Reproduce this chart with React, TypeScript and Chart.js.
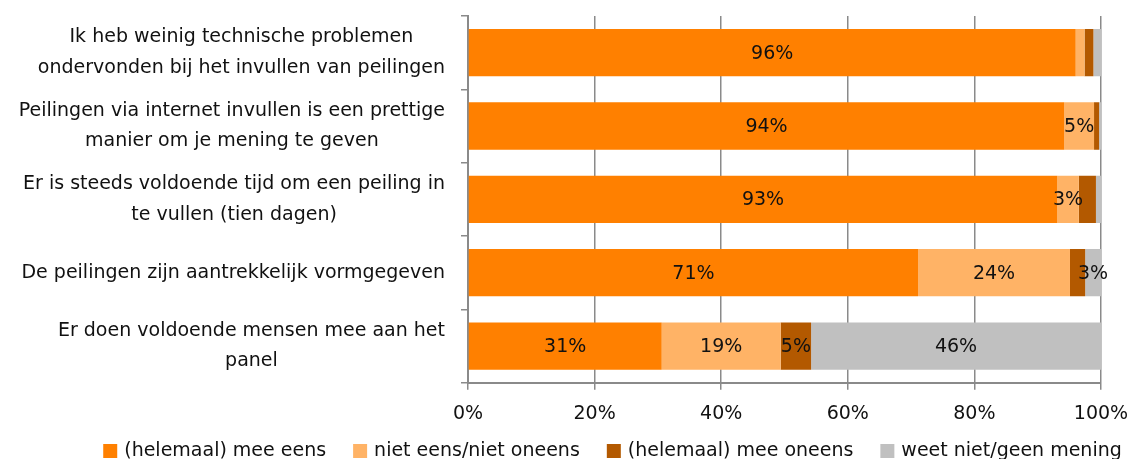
import React, { useEffect, useRef } from "react";
import { Chart, registerables } from "chart.js";

Chart.register(...registerables);

// ---- data ----
const categories: string[][] = [
  ["Ik heb weinig technische problemen", "ondervonden bij het invullen van peilingen"],
  ["Peilingen via internet invullen is een prettige", "manier om je mening te geven"],
  ["Er is steeds voldoende tijd om een peiling in", "te vullen (tien dagen)"],
  ["De peilingen zijn aantrekkelijk vormgegeven"],
  ["Er doen voldoende mensen mee aan het", "panel"],
];
const seriesNames = [
  "(helemaal) mee eens",
  "niet eens/niet oneens",
  "(helemaal) mee oneens",
  "weet niet/geen mening",
];
const eens = [96.0, 94.2, 93.1, 71.1, 30.6];
const neutraal = [1.4, 4.7, 3.4, 24.0, 18.8];
const oneens = [1.4, 0.8, 2.7, 2.4, 4.8];
const weetNiet = [1.2, 0.3, 0.8, 2.5, 45.8];
// which values carry a visible data label
const eensShown = [true, true, true, true, true];
const neutraalShown = [false, true, true, true, true];
const oneensShown = [false, false, false, false, true];
const weetNietShown = [false, false, false, true, true];
const xTickValues = [0, 20, 40, 60, 80, 100];

// ---- styles ----
const FONT = "'DejaVu Sans', sans-serif";
const FS = 19;
const COLORS = ["#FF8000", "#FFB366", "#B35900", "#C0C0C0"];
const AXIS = "#8a8a8a";
const TEXT = "#111";
const LEGEND_CENTER_X = 612.5;
const LEGEND_CENTER_Y = 451;

export default function App() {
  const ref = useRef<HTMLCanvasElement>(null);

  useEffect(() => {
    document.body.style.margin = "0";
    const canvas = ref.current!;
    const values = [eens, neutraal, oneens, weetNiet];
    const shown = [eensShown, neutraalShown, oneensShown, weetNietShown];

    const segmentLabels = {
      id: "segmentLabels",
      afterDatasetsDraw(chart: any) {
        const ctx = chart.ctx;
        ctx.save();
        ctx.font = `${FS}px ${FONT}`;
        ctx.fillStyle = TEXT;
        ctx.textAlign = "center";
        ctx.textBaseline = "middle";
        chart.data.datasets.forEach((ds: any, di: number) => {
          const meta = chart.getDatasetMeta(di);
          meta.data.forEach((bar: any, i: number) => {
            if (!shown[di][i]) return;
            const cx = (bar.x + bar.base) / 2;
            ctx.fillText(Math.round(ds.data[i]) + "%", cx, bar.y + 1);
          });
        });
        ctx.restore();
      },
    };

    const categoryLabels = {
      id: "categoryLabels",
      afterDraw(chart: any) {
        const ctx = chart.ctx;
        const scale = chart.scales.y;
        const lineH = 30.6;
        ctx.save();
        ctx.font = `${FS}px ${FONT}`;
        ctx.fillStyle = TEXT;
        ctx.textAlign = "center";
        ctx.textBaseline = "middle";
        const right = chart.chartArea.left - 23;
        categories.forEach((lines, i) => {
          const w = Math.max(...lines.map((l) => ctx.measureText(l).width));
          const cx = right - w / 2;
          const cy = scale.getPixelForTick(i);
          const y0 = cy - ((lines.length - 1) * lineH) / 2;
          lines.forEach((l, k) => ctx.fillText(l, cx, y0 + k * lineH));
        });
        ctx.restore();
      },
    };

    const bottomLegend = {
      id: "bottomLegend",
      afterDraw(chart: any) {
        const ctx = chart.ctx;
        const box = 14;
        const gap = 7;
        const spacing = 27;
        ctx.save();
        ctx.font = `${FS}px ${FONT}`;
        ctx.textBaseline = "middle";
        ctx.textAlign = "left";
        const widths = chart.data.datasets.map((ds: any) => box + gap + ctx.measureText(ds.label).width);
        const total = widths.reduce((a: number, b: number) => a + b, 0) + spacing * (widths.length - 1);
        let x = LEGEND_CENTER_X - total / 2;
        chart.data.datasets.forEach((ds: any, k: number) => {
          ctx.fillStyle = ds.backgroundColor;
          ctx.fillRect(x, LEGEND_CENTER_Y - box / 2, box, box);
          ctx.fillStyle = TEXT;
          ctx.fillText(ds.label, x + box + gap, LEGEND_CENTER_Y);
          x += widths[k] + spacing;
        });
        ctx.restore();
      },
    };

    const chart = new Chart(canvas, {
      type: "bar",
      data: {
        labels: categories.map((c) => c.join(" ")),
        datasets: seriesNames.map((name, k) => ({
          label: name,
          data: values[k],
          backgroundColor: COLORS[k],
          borderWidth: 0,
          barPercentage: 0.645,
          categoryPercentage: 1,
        })),
      },
      options: {
        indexAxis: "y",
        animation: false,
        responsive: false,
        layout: { padding: { left: 0, right: 33, top: 16, bottom: 36.3 } },
        scales: {
          y: {
            type: "category",
            stacked: true,
            offset: true,
            grid: {
              offset: true,
              drawOnChartArea: false,
              drawTicks: true,
              tickLength: 7,
              color: AXIS,
              lineWidth: 1.5,
            },
            border: { display: true, color: AXIS, width: 2 },
            ticks: { display: false },
            afterFit: (s: any) => {
              s.width = 468;
            },
          },
          x: {
            type: "linear",
            stacked: true,
            min: 0,
            max: 100,
            afterBuildTicks: (s: any) => {
              s.ticks = xTickValues.map((v) => ({ value: v }));
            },
            ticks: {
              callback: (v: any) => v + "%",
              font: { family: FONT, size: FS },
              color: TEXT,
              padding: 13,
              maxRotation: 0,
            },
            grid: {
              color: AXIS,
              lineWidth: 1.5,
              drawTicks: true,
              tickLength: 7,
            },
            border: { display: true, color: AXIS, width: 2 },
            afterFit: (s: any) => {
              s.height = 40;
              s.paddingLeft = 0;
              s.paddingRight = 0;
            },
          },
        },
        plugins: {
          legend: { display: false },
          tooltip: { enabled: false },
        },
      },
      plugins: [segmentLabels, categoryLabels, bottomLegend],
    } as any);

    return () => chart.destroy();
  }, []);

  return <canvas ref={ref} width={1134} height={459} style={{ display: "block" }} />;
}
